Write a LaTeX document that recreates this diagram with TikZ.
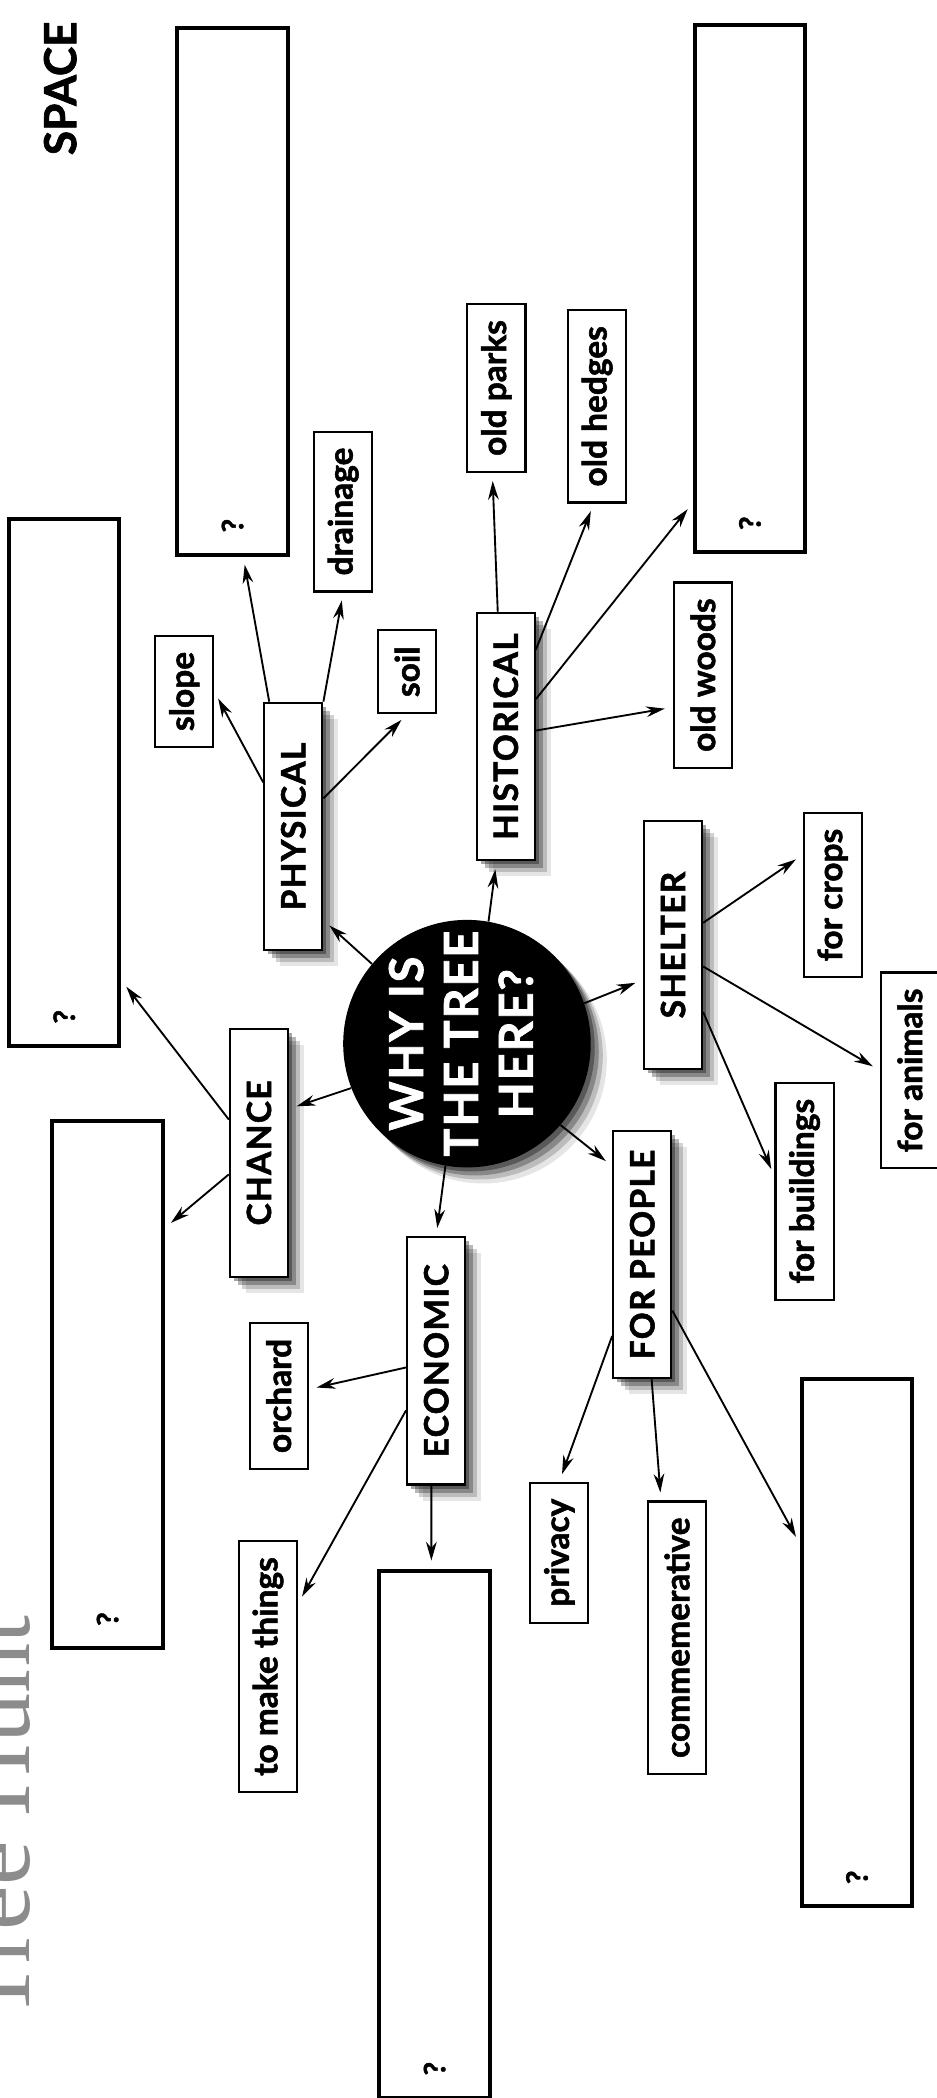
\documentclass[tikz,border=0pt]{standalone}
\usepackage{fontspec}
\usepackage{graphicx}
\setmainfont{Lato}[BoldFeatures={FakeBold=1.6}]
\newfontfamily\capsfont{Lato}[LetterSpace=4.0,BoldFeatures={FakeBold=1.6}]
\newfontfamily\huntfont{Liberation Serif}
\usetikzlibrary{arrows.meta,shadows}
\newcommand{\rot}[1]{\rotatebox{90}{#1}}
\begin{document}
\begin{tikzpicture}[x=1pt,y=1pt,
    every node/.style={inner sep=0pt},
    softshadow/.style={
      drop shadow={shadow xshift=12pt,shadow yshift=-12pt,fill=black,opacity=.1},
      drop shadow={shadow xshift=9pt,shadow yshift=-9pt,fill=black,opacity=.18},
      drop shadow={shadow xshift=6pt,shadow yshift=-6pt,fill=black,opacity=.28},
      drop shadow={shadow xshift=3pt,shadow yshift=-3pt,fill=black,opacity=.35}},
    qbox/.style={draw,line width=3pt,minimum width=82.5pt,minimum height=394pt,
      label={[anchor=south,yshift=18pt,font=\bfseries\fontsize{22}{24}\selectfont]south:\rot{?}}},
    leaf/.style={draw,line width=1.6pt,fill=white,minimum width=43.4pt,inner ysep=12pt,
      font=\bfseries\fontsize{25}{30}\selectfont},
    branch/.style={draw,line width=1.6pt,fill=white,minimum width=43.4pt,minimum height=185pt,
      font=\capsfont\bfseries\fontsize{25}{30}\selectfont,softshadow},
    arr/.style={line width=1.4pt,-{Stealth[length=14pt,width=8pt]},shorten >=6pt}]
  \useasboundingbox (0,0) rectangle (700,-1568);
  % title and page mark
  \node[anchor=base west,rotate=90,text=black!45,font=\huntfont\fontsize{75}{80}\selectfont] (hunt) at (22,-1511) {Tree Hunt};
  \node[font=\bfseries\fontsize{33}{36}\selectfont] (space) at (45,-66) {\rot{SPACE}};
  % answer boxes
  \node[qbox] (qa) at (173.8,-217.6) {};
  \node[qbox] (qb) at (560.5,-215.8) {};
  \node[qbox] (qc) at (48,-584.7) {};
  \node[qbox] (qd) at (80.4,-1034.8) {};
  \node[qbox] (qe) at (324.8,-1370.8) {};
  \node[qbox] (qf) at (640.5,-1227.8) {};
  % centre
  \node[circle,fill=black,minimum size=185pt,softshadow,
    label={[text=white,font=\capsfont\bfseries\fontsize{35}{41}\selectfont]center:%
      \rot{\begin{tabular}{@{}c@{}}WHY IS\\THE TREE\\HERE?\end{tabular}}}] (why) at (349,-780) {};
  % main reasons
  \node[branch] (phys) at (219.2,-617.7) {\rot{PHYSICAL}};
  \node[branch] (hist) at (378,-550.5) {\rot{HISTORICAL}};
  \node[branch] (shelter) at (503,-706.3) {\rot{SHELTER}};
  \node[branch] (chance) at (193.5,-861.7) {\rot{CHANCE}};
  \node[branch] (econ) at (326,-1017) {\rot{ECONOMIC}};
  \node[branch] (people) at (480,-937.5) {\rot{FOR PEOPLE}};
  % details
  \node[leaf] (slope) at (137.7,-516.8) {\rot{slope}};
  \node[leaf] (drain) at (256.5,-382.3) {\rot{drainage}};
  \node[leaf] (soil) at (304.3,-502) {\rot{soil}};
  \node[leaf] (parks) at (371,-290) {\rot{old parks}};
  \node[leaf] (hedges) at (446.3,-303.7) {\rot{old hedges}};
  \node[leaf] (woods) at (525.3,-504.6) {\rot{old woods}};
  \node[leaf] (crops) at (622.3,-668.9) {\rot{for crops}};
  \node[leaf] (animals) at (680,-800) {\rot{for animals}};
  \node[leaf] (build) at (601.3,-890.3) {\rot{for buildings}};
  \node[leaf] (orchard) at (208.3,-1043.3) {\rot{orchard}};
  \node[leaf] (things) at (200.3,-1245.5) {\rot{to make things}};
  \node[leaf] (privacy) at (418,-1160.5) {\rot{privacy}};
  \node[leaf] (commem) at (506,-1224) {\rot{commemerative}};
  % arrows
  \draw[arr] (why.140) -- ([yshift=-70pt]phys.east);
  \draw[arr] (why.80) -- ([xshift=-7pt]hist.south);
  \draw[arr] (why.19) -- ([yshift=-26pt]shelter.west);
  \draw[arr] (why.201) -- ([yshift=33pt]chance.east);
  \draw[arr] (why.260) -- (econ.north);
  \draw[arr] (why.319) -- ([yshift=66pt]people.west);
  \draw[arr] ([yshift=33pt]phys.west) -- (slope.east);
  \draw[arr] ([xshift=-18pt]phys.north) -- ([xshift=8pt]qa.south);
  \draw[arr] (phys.north east) -- (drain.south);
  \draw[arr] ([yshift=21pt]phys.east) -- (soil.south);
  \draw[arr] ([xshift=-6pt]hist.north) -- ([xshift=-3pt]parks.south);
  \draw[arr] ([yshift=65pt]hist.east) -- ([xshift=-2.5pt]hedges.south);
  \draw[arr] ([yshift=28pt]hist.east) -- ([yshift=-160pt]qb.west);
  \draw[arr] ([yshift=4.5pt]hist.east) -- ([yshift=-24pt]woods.west);
  \draw[arr] ([yshift=16.6pt]shelter.east) -- ([yshift=30pt]crops.west);
  \draw[arr] ([yshift=-16pt]shelter.east) -- (animals.west);
  \draw[arr] ([yshift=-50pt]shelter.east) -- ([yshift=11pt]build.west);
  \draw[arr] ([yshift=25pt]chance.west) -- ([yshift=-148pt]qc.east);
  \draw[arr] ([yshift=-16pt]chance.west) -- ([yshift=117pt]qd.east);
  \draw[arr] ([yshift=-5pt]econ.west) -- ([yshift=5pt]orchard.east);
  \draw[arr] ([yshift=-37pt]econ.west) -- ([yshift=47pt]things.east);
  \draw[arr] ([xshift=-3.6pt]econ.south) -- ([xshift=-2.4pt]qe.north);
  \draw[arr] ([yshift=-61pt]people.west) -- (privacy.north);
  \draw[arr] ([xshift=7pt]people.south) -- ([xshift=-12pt]commem.north);
  \draw[arr] ([yshift=-42pt]people.east) -- ([yshift=74pt]qf.west);
\end{tikzpicture}
\end{document}
